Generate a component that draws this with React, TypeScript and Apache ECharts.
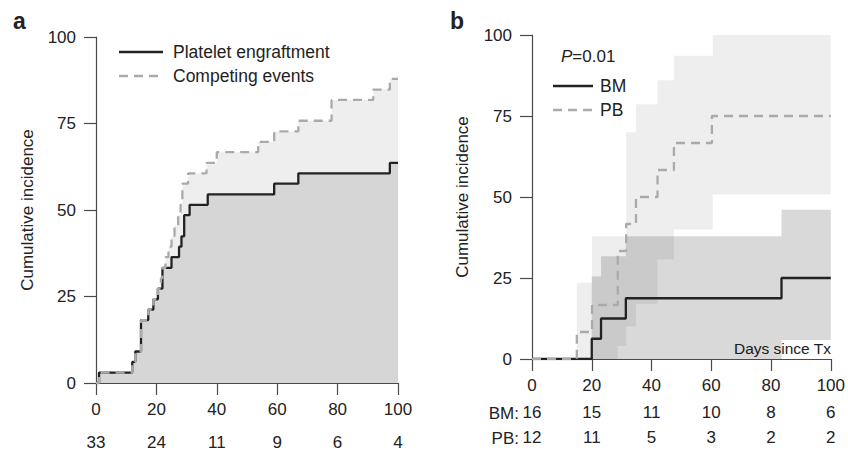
import React, { useEffect, useRef } from 'react';
import * as echarts from 'echarts';

// ---- data ----
const xTicks = [0, 20, 40, 60, 80, 100];
const atRiskA = [33, 24, 11, 9, 6, 4];
const atRiskBM = [16, 15, 11, 10, 8, 6];
const atRiskPB = [12, 11, 5, 3, 2, 2];

// panel a (step-after: value reached on that day)
const plateletDays = [0, 1, 12, 13, 14.9, 17.3, 19, 20.5, 22, 25, 27.5, 28.3, 29.2, 31, 37, 59, 67, 97.3, 100];
const plateletPct = [0, 3.0, 6.1, 9.1, 18.2, 21.2, 24.2, 27.3, 33.3, 36.4, 39.4, 42.4, 48.5, 51.5, 54.5, 57.6, 60.6, 63.6, 63.6];
const competingDays = [0, 1, 12, 13, 14.9, 17.3, 19, 20.5, 21.5, 22, 23, 24, 25, 26, 27.2, 28, 28.6, 30.5, 36.6, 40, 53.7, 59, 67, 78, 91.8, 97.3, 100];
const competingPct = [0, 3.0, 6.1, 9.1, 18.2, 21.2, 24.2, 27.3, 30.3, 33.3, 36.4, 39.4, 42.4, 45.5, 48.5, 51.5, 57.6, 60.6, 63.6, 66.7, 69.7, 72.7, 75.8, 81.8, 84.8, 87.9, 87.9];

// panel b
const bmDays = [0, 20, 23.1, 31.4, 83.5, 100];
const bmPct = [0, 6.25, 12.5, 18.75, 25, 25];
const pbDays = [0, 15, 20.1, 28.7, 31.5, 34.8, 42, 47.5, 60.2, 100];
const pbPct = [0, 8.33, 16.67, 33.33, 41.67, 50, 58.33, 66.67, 75, 75];

const bmBandDays = [20, 23.1, 31.4, 83.5, 100];
const bmBandUpper = [25.5, 31.7, 37.9, 46.1, 46.1];
const bmBandLower = [0, 0, 0, 5.9, 5.9];
const pbBandDays = [15, 20.1, 28.7, 31.5, 34.8, 42, 47.5, 60.5, 100];
const pbBandUpper = [23.5, 37.9, 37.9, 70, 78.6, 86, 93.6, 100, 100];
const pbBandLower = [0, 0, 4, 10, 17, 30.7, 40, 50.8, 50.8];

const FONT = 'Liberation Sans, Arial, Helvetica, sans-serif';
const AXIS = '#4a4a4a';
const TXT = '#222';
const FS = 17;

const zip = (a: number[], b: number[]) => a.map((v, i) => [v, b[i]]);

function band(xi: number, days: number[], upper: number[], lower: number[], fill: string, z: number) {
  return {
    type: 'custom',
    xAxisIndex: xi,
    yAxisIndex: xi,
    silent: true,
    z,
    clip: true,
    data: [[days[0], upper[0]]],
    encode: { x: 0, y: 1 },
    renderItem: (_p: any, api: any) => {
      const pts: number[][] = [];
      for (let i = 0; i < days.length; i++) {
        const xn = i < days.length - 1 ? days[i + 1] : days[i];
        pts.push(api.coord([days[i], upper[i]]));
        pts.push(api.coord([xn, upper[i]]));
      }
      for (let i = days.length - 1; i >= 0; i--) {
        const xn = i < days.length - 1 ? days[i + 1] : days[i];
        pts.push(api.coord([xn, lower[i]]));
        pts.push(api.coord([days[i], lower[i]]));
      }
      return { type: 'polygon', shape: { points: pts }, style: { fill } };
    },
  };
}

function stepLine(xi: number, days: number[], pct: number[], color: string, dashed: boolean, z: number) {
  return {
    type: 'line',
    xAxisIndex: xi,
    yAxisIndex: xi,
    step: 'end',
    data: zip(days, pct),
    showSymbol: false,
    silent: true,
    z,
    lineStyle: { color, width: 2.3, type: dashed ? [9, 6] : 'solid', cap: 'butt' },
  };
}

function stepArea(xi: number, days: number[], pct: number[], color: string, z: number) {
  return {
    type: 'line',
    xAxisIndex: xi,
    yAxisIndex: xi,
    step: 'end',
    data: zip(days, pct),
    showSymbol: false,
    silent: true,
    z,
    lineStyle: { width: 0, opacity: 0 },
    areaStyle: { color, opacity: 1 },
  };
}

function mainX(gi: number) {
  return {
    type: 'value', gridIndex: gi, min: 0, max: 100, interval: 20, position: 'bottom',
    axisLine: { show: true, onZero: false, lineStyle: { color: AXIS, width: 1.2 } },
    axisTick: { show: true, length: 12, lineStyle: { color: AXIS, width: 1.2 } },
    axisLabel: { color: TXT, fontSize: FS, fontFamily: FONT, margin: 18, showMinLabel: true, showMaxLabel: true },
    splitLine: { show: false },
  };
}

function riskX(gi: number, offset: number, values: number[]) {
  return {
    type: 'value', gridIndex: gi, min: 0, max: 100, interval: 20, position: 'bottom', offset,
    axisLine: { show: false }, axisTick: { show: false }, splitLine: { show: false },
    axisLabel: {
      color: TXT, fontSize: FS, fontFamily: FONT, margin: 19, showMinLabel: true, showMaxLabel: true,
      formatter: (v: number) => String(values[xTicks.indexOf(Math.round(v))] ?? ''),
    },
  };
}

function mainY(gi: number) {
  return {
    type: 'value', gridIndex: gi, min: 0, max: 100, interval: 25,
    axisLine: { show: true, onZero: false, lineStyle: { color: AXIS, width: 1.2 } },
    axisTick: { show: true, length: 12, lineStyle: { color: AXIS, width: 1.2 } },
    axisLabel: { color: TXT, fontSize: FS, fontFamily: FONT, margin: 20, showMinLabel: true, showMaxLabel: true },
    splitLine: { show: false },
  };
}

const txt = (x: number, y: number, text: string, extra: any = {}) => ({
  type: 'text', x, y, silent: true,
  style: { text, fill: TXT, font: `${FS}px ${FONT}`, textVerticalAlign: 'middle', ...extra },
});
const seg = (x1: number, x2: number, y: number, color: string, dashed: boolean) => ({
  type: 'line', silent: true,
  shape: { x1, y1: y, x2, y2: y },
  style: { stroke: color, lineWidth: 2.3, lineDash: dashed ? [9, 6] : null },
});

export default function App() {
  const ref = useRef<HTMLDivElement>(null);
  useEffect(() => {
    const chart = echarts.init(ref.current!, null, { renderer: 'svg' });
    chart.setOption({
      animation: false,
      grid: [
        { left: 96, top: 37, width: 302, height: 346 },
        { left: 532, top: 35, width: 301, height: 324 },
      ],
      xAxis: [mainX(0), mainX(1), riskX(0, 32, atRiskA), riskX(1, 26, atRiskBM), riskX(1, 51, atRiskPB)],
      yAxis: [mainY(0), mainY(1)],
      series: [
        stepArea(0, competingDays, competingPct, '#eeeeee', 1),
        stepArea(0, plateletDays, plateletPct, '#d6d6d6', 2),
        stepLine(0, plateletDays, plateletPct, '#222222', false, 3),
        stepLine(0, competingDays, competingPct, '#aaaaaa', true, 4),
        band(1, pbBandDays, pbBandUpper, pbBandLower, 'rgba(0,0,0,0.065)', 1),
        band(1, bmBandDays, bmBandUpper, bmBandLower, 'rgba(0,0,0,0.15)', 1),
        stepLine(1, bmDays, bmPct, '#222222', false, 3),
        stepLine(1, pbDays, pbPct, '#aaaaaa', true, 4),
      ],
      graphic: [
        txt(13, 21, 'a', { font: `bold 23px ${FONT}` }),
        txt(450, 21, 'b', { font: `bold 23px ${FONT}` }),
        { ...txt(27, 210, 'Cumulative incidence', { textAlign: 'center' }), rotation: Math.PI / 2 },
        { ...txt(462, 197, 'Cumulative incidence', { textAlign: 'center' }), rotation: Math.PI / 2 },
        txt(394, 372, 'Days since Tx', { textAlign: 'right', font: `15.5px ${FONT}` }),
        txt(831, 348, 'Days since Tx', { textAlign: 'right', font: `15.5px ${FONT}` }),
        seg(119, 163, 52, '#222222', false),
        seg(119, 163, 76, '#aaaaaa', true),
        txt(173, 52, 'Platelet engraftment', { font: `17.5px ${FONT}` }),
        txt(173, 76, 'Competing events', { font: `17.5px ${FONT}` }),
        {
          type: 'text', x: 561, y: 56, silent: true,
          style: {
            text: '{i|P}=0.01', fill: TXT, font: `${FS}px ${FONT}`, textVerticalAlign: 'middle',
            rich: { i: { fontStyle: 'italic', fontSize: FS, fontFamily: FONT, fill: TXT } },
          },
        },
        seg(553, 593, 86, '#222222', false),
        seg(553, 593, 110, '#aaaaaa', true),
        txt(600, 86, 'BM', { font: `17.5px ${FONT}` }),
        txt(600, 110, 'PB', { font: `17.5px ${FONT}` }),
        txt(519, 413, 'BM:', { textAlign: 'right' }),
        txt(519, 438, 'PB:', { textAlign: 'right' }),
      ],
    });
    return () => chart.dispose();
  }, []);
  return <div ref={ref} style={{ position: 'absolute', left: 0, top: 0, width: 848, height: 454 }} />;
}
